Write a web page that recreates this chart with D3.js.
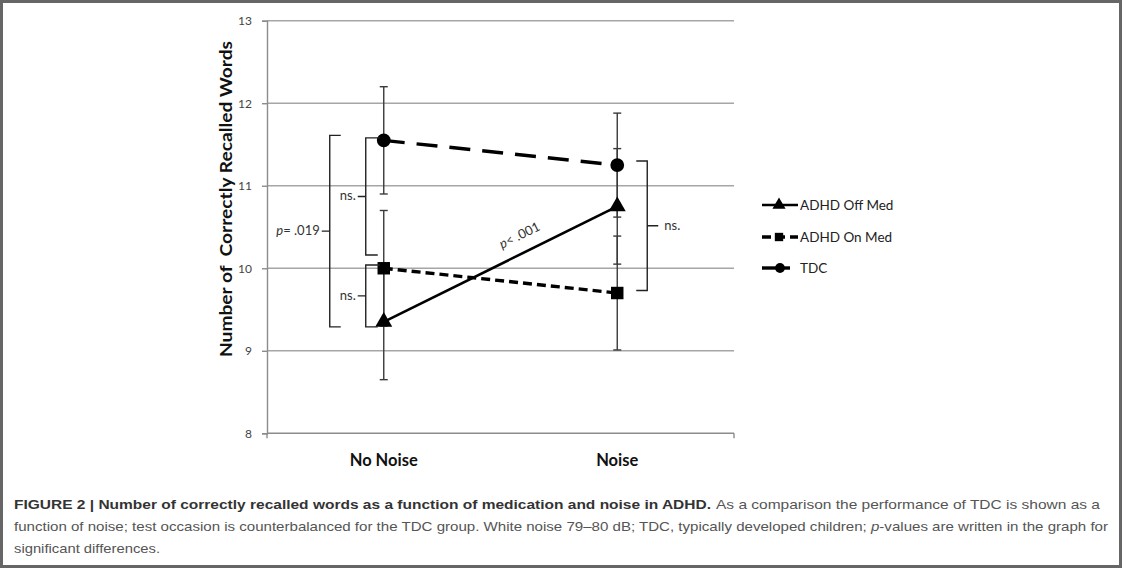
<!DOCTYPE html>
<html>
<head>
<meta charset="utf-8">
<script src="https://cdn.jsdelivr.net/npm/d3@7/dist/d3.min.js"></script>
<style>
  html, body { margin: 0; padding: 0; background: #fff; }
  svg { display: block; }
</style>
</head>
<body>
<svg id="fig" width="1122" height="568"></svg>
<script>
// Categories and tick values
const categories = ["No Noise", "Noise"];
const yTicks = [8, 9, 10, 11, 12, 13];

// Group means (words recalled) and error-bar half widths
const offMedValues = [9.35, 10.75];
const offMedErrors = [0.70, 0.70];
const onMedValues = [10.0, 9.70];
const onMedErrors = [0.70, 0.69];
const tdcValues = [11.55, 11.25];
const tdcErrors = [0.65, 0.63];

const seriesNames = ["ADHD Off Med", "ADHD On Med", "TDC"];

// Significance brackets: category index, value span, label
const bracketCats = [0, 0, 0, 1];
const bracketTop = [11.61, 11.58, 10.04, 11.30];
const bracketBottom = [9.29, 10.16, 9.29, 9.73];
const bracketLabels = ["p= .019", "ns.", "ns.", "ns."];

const svg = d3.select("#fig");
const W = 1122, H = 568;

// frame
svg.append("rect").attr("x", 1.5).attr("y", 1.5).attr("width", W - 3).attr("height", H - 3)
  .attr("fill", "#fff").attr("stroke", "#666").attr("stroke-width", 3);

const x = d3.scalePoint().domain(categories).range([267, 734]).padding(0.5);
const y = d3.scaleLinear().domain([8, 13]).range([433.3, 20.7]);
const left = 267, right = 734;

const font = "Lato, 'Open Sans', 'Liberation Sans', sans-serif";

// gridlines
svg.append("g").selectAll("line").data(yTicks.filter(d => d > 8)).join("line")
  .attr("x1", left).attr("x2", right)
  .attr("y1", d => y(d)).attr("y2", d => y(d))
  .attr("stroke", "#a6a6a6").attr("stroke-width", 1.4);

// y axis
const yAxis = svg.append("g").attr("transform", `translate(${left},0)`)
  .call(d3.axisLeft(y).tickValues(yTicks).tickSize(5).tickPadding(10).tickFormat(d3.format("d")));
yAxis.select(".domain").attr("stroke", "#8c8c8c").attr("stroke-width", 1.4);
yAxis.selectAll(".tick line").attr("stroke", "#8c8c8c").attr("stroke-width", 1.4);
yAxis.selectAll(".tick text").attr("font-family", font).attr("font-size", 12).attr("fill", "#444");

// x axis line with end ticks
svg.append("line").attr("x1", left).attr("x2", right).attr("y1", y(8)).attr("y2", y(8))
  .attr("stroke", "#8c8c8c").attr("stroke-width", 1.4);
svg.append("g").selectAll("line").data([left, right]).join("line")
  .attr("x1", d => d).attr("x2", d => d).attr("y1", y(8)).attr("y2", y(8) + 5)
  .attr("stroke", "#8c8c8c").attr("stroke-width", 1.4);
svg.append("g").selectAll("text").data(categories).join("text")
  .attr("x", d => x(d)).attr("y", 466)
  .attr("text-anchor", "middle").attr("font-family", font).attr("font-weight", 700)
  .attr("font-size", 16.5).attr("fill", "#111").text(d => d);

// y axis title
svg.append("text")
  .attr("transform", `translate(232,199) rotate(-90)`)
  .attr("text-anchor", "middle").attr("font-family", font).attr("font-weight", 700)
  .attr("font-size", 17).attr("fill", "#111")
  .attr("xml:space", "preserve")
  .attr("textLength", 316).attr("lengthAdjust", "spacingAndGlyphs")
  .text("Number of  Correctly Recalled Words");

const series = [
  { name: seriesNames[0], values: offMedValues, errors: offMedErrors, dash: null, width: 2.6, symbol: d3.symbolTriangle, size: 125, lsize: 75 },
  { name: seriesNames[1], values: onMedValues, errors: onMedErrors, dash: "9,5", width: 3.4, symbol: d3.symbolSquare, size: 155, lsize: 70 },
  { name: seriesNames[2], values: tdcValues, errors: tdcErrors, dash: "21,12", width: 3.4, symbol: d3.symbolCircle, size: 150, lsize: 75 }
];

// error bars
const eb = svg.append("g").attr("stroke", "#3a3a3a").attr("stroke-width", 1.4);
series.forEach(s => {
  categories.forEach((c, i) => {
    const cx = x(c), hi = s.values[i] + s.errors[i], lo = s.values[i] - s.errors[i];
    eb.append("line").attr("x1", cx).attr("x2", cx).attr("y1", y(hi)).attr("y2", y(lo));
    [hi, lo].forEach(v => eb.append("line").attr("x1", cx - 4).attr("x2", cx + 4).attr("y1", y(v)).attr("y2", y(v)));
  });
});

// series lines and markers
const line = d3.line().x((d, i) => x(categories[i])).y(d => y(d));
series.forEach(s => {
  svg.append("path").datum(s.values).attr("d", line)
    .attr("fill", "none").attr("stroke", "#000").attr("stroke-width", s.width)
    .attr("stroke-dasharray", s.dash);
});
series.forEach(s => {
  svg.append("g").selectAll("path").data(s.values).join("path")
    .attr("transform", (d, i) => `translate(${x(categories[i])},${y(d)})`)
    .attr("d", d3.symbol().type(s.symbol).size(s.size)).attr("fill", "#000");
});

// significance brackets
const bg = svg.append("g").attr("fill", "none").attr("stroke", "#222").attr("stroke-width", 1.4);
const lab = svg.append("g").attr("font-family", font).attr("font-size", 13).attr("fill", "#333");
bracketCats.forEach((ci, k) => {
  const cx = x(categories[ci]);
  const t = y(bracketTop[k]), b = y(bracketBottom[k]), m = (t + b) / 2;
  let vx, dir, serifTop, serifBot, nub, gap;
  if (ci === 1) { vx = cx + 30; dir = 1; serifTop = 11; serifBot = 11; nub = 11; gap = 6; }
  else if (k === 0) { vx = cx - 54; dir = -1; serifTop = 11; serifBot = 11; nub = 8; gap = 2; }
  else { vx = cx - 18; dir = -1; serifTop = 14; serifBot = 12; nub = 8; gap = 2; }
  // serifs point back toward the points, nub points away
  bg.append("path").attr("d",
    `M${vx - dir * serifTop},${t} L${vx},${t} L${vx},${b} L${vx - dir * serifBot},${b}` +
    ` M${vx},${m} L${vx + dir * nub},${m}`);
  const tx = vx + dir * (nub + gap);
  const txt = lab.append("text").attr("x", tx).attr("y", m + 4)
    .attr("text-anchor", dir < 0 ? "end" : "start");
  const label = bracketLabels[k];
  if (label.startsWith("p")) {
    txt.append("tspan").attr("font-style", "italic").text("p");
    txt.append("tspan").text(label.slice(1));
  } else txt.text(label);
});

// label along the Off Med line
{
  const x0 = x(categories[0]), y0 = y(offMedValues[0]);
  const x1 = x(categories[1]), y1 = y(offMedValues[1]);
  const ang = Math.atan2(y1 - y0, x1 - x0);
  const f = 0.615, off = 13;
  const px = x0 + (x1 - x0) * f + Math.sin(ang) * off;
  const py = y0 + (y1 - y0) * f - Math.cos(ang) * off;
  const t = svg.append("text")
    .attr("transform", `translate(${px},${py}) rotate(${ang * 180 / Math.PI})`)
    .attr("text-anchor", "middle").attr("font-family", font).attr("font-size", 13).attr("fill", "#333");
  t.append("tspan").attr("font-style", "italic").text("p");
  t.append("tspan").text("< .001");
}

// legend
const legY = [205, 237, 268];
series.forEach((s, i) => {
  const g = svg.append("g").attr("transform", `translate(0,${legY[i]})`);
  const x2 = i === 2 ? 790 : 798;
  g.append("line").attr("x1", 762).attr("x2", x2).attr("y1", 0).attr("y2", 0)
    .attr("stroke", "#000").attr("stroke-width", s.width)
    .attr("stroke-dasharray", i === 1 ? s.dash : null);
  g.append("path").attr("transform", `translate(${i === 2 ? 780 : 779},0)`)
    .attr("d", d3.symbol().type(s.symbol).size(s.lsize)).attr("fill", "#000");
  g.append("text").attr("x", 800).attr("y", 5)
    .attr("font-family", font).attr("font-size", 13.5).attr("fill", "#222").text(s.name);
});

// caption
const cap = svg.append("g").attr("font-family", "'Liberation Sans', Arial, sans-serif").attr("font-size", 13);
cap.append("text").attr("x", 14).attr("y", 509).attr("font-weight", 700).attr("fill", "#333")
  .attr("textLength", 697).attr("lengthAdjust", "spacingAndGlyphs")
  .text("FIGURE 2 | Number of correctly recalled words as a function of medication and noise in ADHD.");
cap.append("text").attr("x", 716).attr("y", 509).attr("fill", "#555")
  .attr("textLength", 384).attr("lengthAdjust", "spacingAndGlyphs")
  .text("As a comparison the performance of TDC is shown as a");
const l2 = cap.append("text").attr("x", 14).attr("y", 531).attr("fill", "#555")
  .attr("textLength", 1094).attr("lengthAdjust", "spacingAndGlyphs");
l2.append("tspan").text("function of noise; test occasion is counterbalanced for the TDC group. White noise 79–80 dB; TDC, typically developed children; ");
l2.append("tspan").attr("font-style", "italic").text("p");
l2.append("tspan").text("-values are written in the graph for");
cap.append("text").attr("x", 14).attr("y", 553).attr("fill", "#555")
  .attr("textLength", 146).attr("lengthAdjust", "spacingAndGlyphs")
  .text("significant differences.");
</script>
</body>
</html>
